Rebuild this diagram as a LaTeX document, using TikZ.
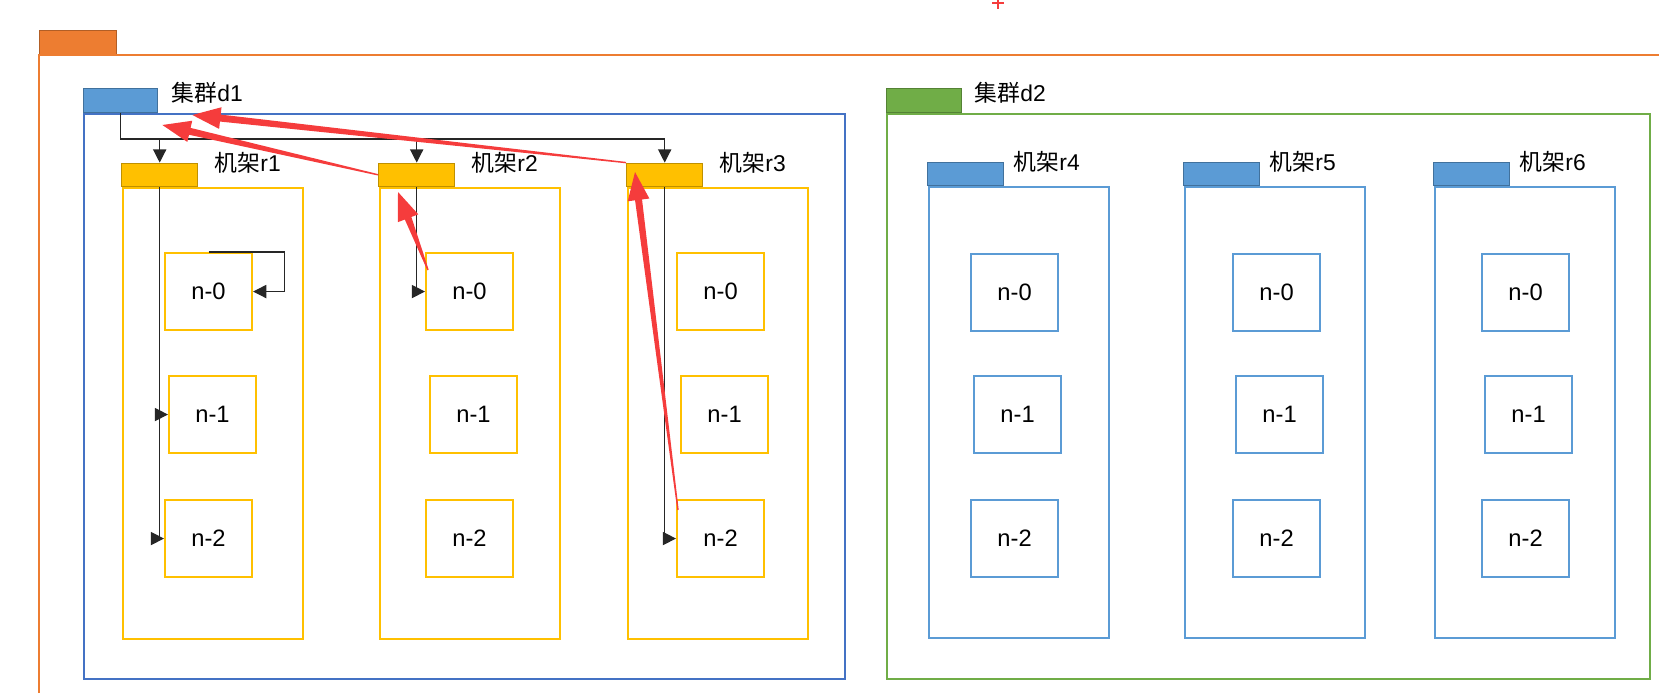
\documentclass[tikz,border=0pt]{standalone}
\usepackage{fontspec}
\setmainfont{Liberation Sans}
\newfontfamily\cjk{Noto Sans CJK SC}
\usetikzlibrary{positioning,calc,arrows.meta}
\definecolor{frameorange}{RGB}{237,125,49}
\definecolor{tabblue}{RGB}{91,155,213}
\definecolor{tabblueline}{RGB}{65,113,156}
\definecolor{dcblue}{RGB}{68,114,196}
\definecolor{dcgreen}{RGB}{112,173,71}
\definecolor{rackgold}{RGB}{255,192,0}
\definecolor{rackline}{RGB}{191,144,0}
\definecolor{annotred}{RGB}{245,60,60}
% tapered red pointer, thin at the tail
\newcommand\redarrow[2]{%
  \coordinate (rb) at ($(#2)!16pt!(#1)$);
  \fill[annotred] ($(#1)!0.4pt!-90:(#2)$) -- ($(rb)!2pt!90:(#1)$) -- ($(rb)!6.2pt!90:(#1)$)
    -- (#2) -- ($(rb)!6.2pt!-90:(#1)$) -- ($(rb)!2pt!-90:(#1)$) -- ($(#1)!0.4pt!90:(#2)$) -- cycle;}

\begin{document}
\begin{tikzpicture}[x=0.02cm,y=-0.02cm,font={\fontsize{13}{15}\selectfont},>={Triangle[length=7.5pt,width=7.5pt]},
    conn/.style={line width=0.7pt,black!85},
    bigtab/.style={draw,line width=0.8pt,minimum height=0.48cm,anchor=south west,inner sep=0},
    dc/.style={draw,line width=1pt,minimum height=11.3cm,anchor=north west,inner sep=0},
    rack/.style={draw,line width=1pt,minimum width=3.6cm,minimum height=9.02cm,anchor=north west,inner sep=0},
    rtab/.style={draw,line width=0.8pt,minimum width=1.52cm,minimum height=0.46cm,anchor=south west,inner sep=0},
    nd/.style={draw,line width=1.2pt,minimum width=1.74cm,minimum height=1.54cm,anchor=north west,inner sep=0,font={\fontsize{13.5}{15}\selectfont}},
    lbl/.style={inner sep=0,anchor=west}]
  \useasboundingbox (0,0) rectangle (1659,693);
  \draw[annotred,line width=1.2pt] (992,3) -- (1004,3) (998,-2) -- (998,9);
  % outer frame
  \node[bigtab,fill=frameorange,draw=frameorange!75!black,minimum width=1.54cm] (ot) at (39,55) {};
  \draw[frameorange,line width=1pt] (ot.south west |- 0,693) -- (ot.south west) -- (1659,55);
  % clusters
  \node[dc,draw=dcblue,minimum width=15.22cm] (d1) at (83,113) {};
  \node[bigtab,fill=tabblue,draw=tabblueline,minimum width=1.48cm] (d1t) at (d1.north west) {};
  \node[lbl,right=2.6mm of d1t.north east,yshift=-1mm] {{\cjk 集群}d1};
  \node[dc,draw=dcgreen,minimum width=15.26cm] (d2) at (886,113) {};
  \node[bigtab,fill=dcgreen,draw=dcgreen!75!black,minimum width=1.5cm] (d2t) at (d2.north west) {};
  \node[lbl,right=2.4mm of d2t.north east,yshift=-1mm] {{\cjk 集群}d2};
  % racks of d1
  \foreach \r/\x/\n in {1/122/164,2/379/425,3/627/676}{
    \node[rack,draw=rackgold] (r\r) at (\x,187) {};
    \node[rtab,fill=rackgold,draw=rackline] (t\r) at ($(r\r.north west)+(-1,0)$) {};
    \node[lbl,right=3.2mm of t\r.north east] {{\cjk 机架}r\r};
    \node[nd,draw=rackgold] (r\r-n0) at (\n,252) {n-0};
    \node[nd,draw=rackgold] (r\r-n1) at (\n+4,375) {n-1};
    \node[nd,draw=rackgold] (r\r-n2) at (\n,499) {n-2};
  }
  % racks of d2
  \foreach \r/\x/\n in {4/928/970,5/1184/1232,6/1434/1481}{
    \node[rack,draw=tabblue] (r\r) at (\x,186) {};
    \node[rtab,fill=tabblue,draw=tabblueline] (t\r) at ($(r\r.north west)+(-1,0)$) {};
    \node[lbl,right=1.8mm of t\r.north east] {{\cjk 机架}r\r};
    \node[nd,draw=tabblue] (r\r-n0) at (\n,253) {n-0};
    \node[nd,draw=tabblue] (r\r-n1) at (\n+3,375) {n-1};
    \node[nd,draw=tabblue] (r\r-n2) at (\n,499) {n-2};
  }
  % black links
  \coordinate (bus) at (0,139);
  \draw[->,conn] (d1t.south) |- (bus -| t3.north) -- (t3.north);
  \draw[->,conn] (bus -| t1.north) -- (t1.north);
  \draw[->,conn] (bus -| t2.north) -- (t2.north);
  \draw[->,conn] (t1.south) |- (r1-n1.west);
  \draw[->,conn] (t1.south) |- (r1-n2.west);
  \draw[->,conn] (r1-n0.north) -- ++(76,0) |- (r1-n0.east);
  \draw[->,conn] (t2.south) |- (r2-n0.west);
  \draw[->,conn] (t3.south) |- (r3-n2.west);
  % red pointers
  \coordinate (h1) at ($(d1t.south east)+(4,12)$);
  \coordinate (h2) at ($(d1t.south east)+(34,2)$);
  \coordinate (h3) at ($(t2.south west)+(20,5)$);
  \coordinate (h4) at ($(t3.south west)+(9,-15)$);
  \coordinate (s3) at ($(r2-n0.north west)+(3,18)$);
  \coordinate (s4) at ($(r3-n2.north west)+(2,11)$);
  \redarrow{t2.west}{h1}
  \redarrow{t3.north west}{h2}
  \redarrow{s3}{h3}
  \redarrow{s4}{h4}
\end{tikzpicture}
\end{document}
